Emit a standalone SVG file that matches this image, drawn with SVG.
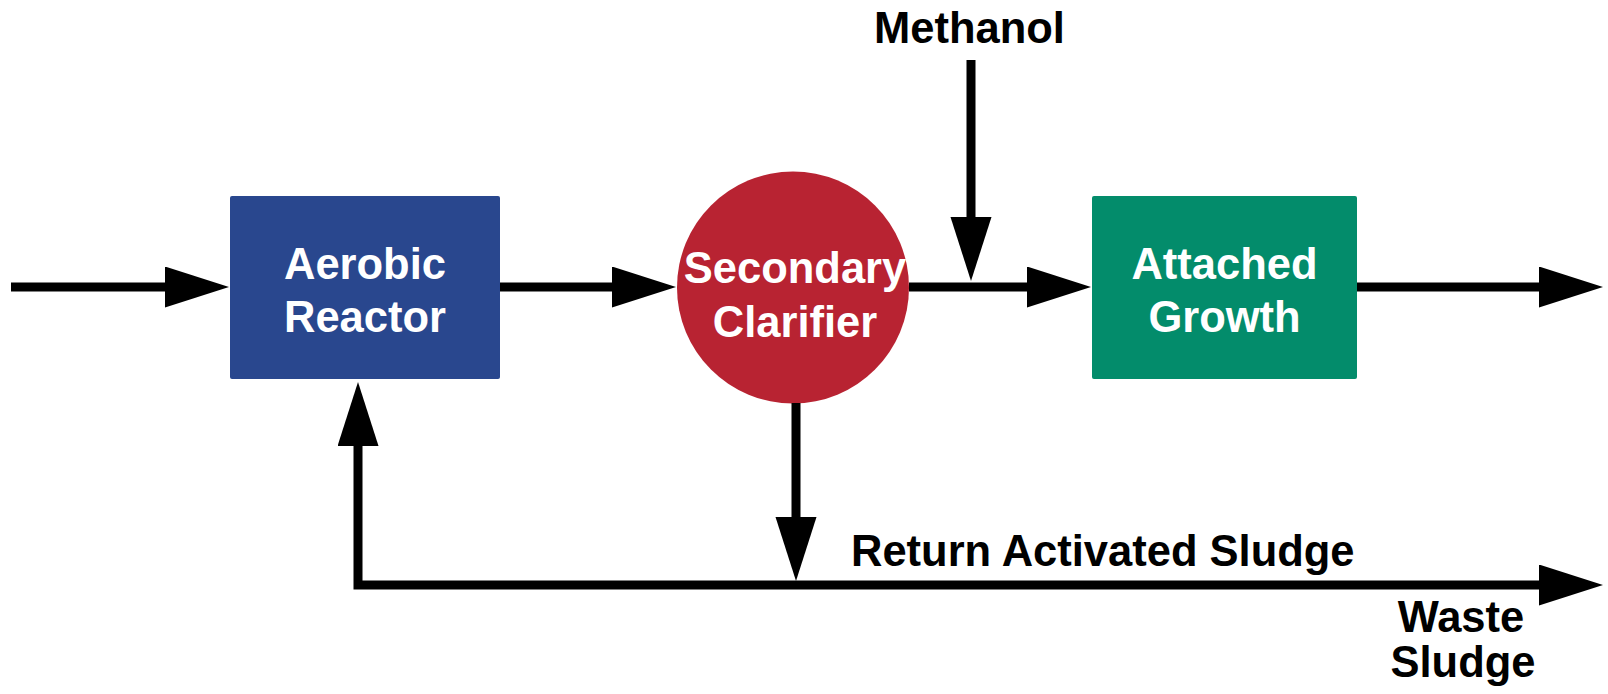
<svg xmlns="http://www.w3.org/2000/svg" width="1608" height="694" viewBox="0 0 1608 694">
  <style>
    .flow { fill: none; stroke: #000; stroke-width: 9; stroke-linejoin: miter; stroke-linecap: butt; marker-end: url(#head); }
    .node-label { font-family: "Liberation Sans", Arial, Helvetica, sans-serif; font-weight: bold; font-size: 43.5px; fill: #fff; text-anchor: middle; }
    .label { font-family: "Liberation Sans", Arial, Helvetica, sans-serif; font-weight: bold; font-size: 43.5px; fill: #000; }
  </style>
  <defs>
    <marker id="head" markerUnits="userSpaceOnUse" markerWidth="66" markerHeight="42" refX="1" refY="20.5" orient="auto">
      <path d="M0,0 L64,20.5 L0,41 Z" fill="#000"/>
    </marker>
  </defs>
  <rect width="1608" height="694" fill="#fff"/>

  <!-- process units -->
  <g id="aerobic-reactor">
    <rect x="230" y="196" width="270" height="183" rx="2" fill="#29478E"/>
    <text class="node-label" x="365" y="279">Aerobic</text>
    <text class="node-label" x="365" y="332">Reactor</text>
  </g>
  <g id="secondary-clarifier">
    <circle cx="793" cy="287.5" r="116" fill="#B82332"/>
    <text class="node-label" x="795" y="283">Secondary</text>
    <text class="node-label" x="795" y="337">Clarifier</text>
  </g>
  <g id="attached-growth">
    <rect x="1092" y="196" width="265" height="183" rx="2" fill="#038C6B"/>
    <text class="node-label" x="1224.5" y="279">Attached</text>
    <text class="node-label" x="1224.5" y="332">Growth</text>
  </g>

  <!-- flow lines -->
  <g id="connectors">
    <path class="flow" d="M11,287 H166"/>
    <path class="flow" d="M500,287 H613"/>
    <path class="flow" d="M909,287 H1028"/>
    <path class="flow" d="M1357,287 H1540"/>
    <path class="flow" d="M971,60 V218"/>
    <path class="flow" d="M796,403 V518"/>
    <path class="flow" d="M796,585 H358 V445"/>
    <path class="flow" d="M796,585 H1540"/>
  </g>

  <!-- stream labels -->
  <g id="labels">
    <text class="label" x="969.5" y="43" text-anchor="middle">Methanol</text>
    <text class="label" x="851" y="566">Return Activated Sludge</text>
    <text class="label" x="1461" y="632" text-anchor="middle">Waste</text>
    <text class="label" x="1463" y="677" text-anchor="middle">Sludge</text>
  </g>
</svg>
